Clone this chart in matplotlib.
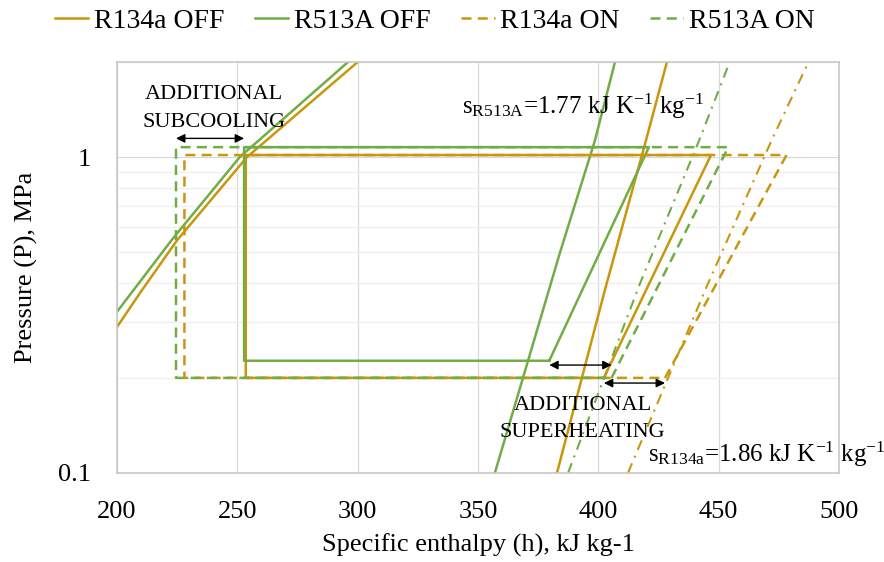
import matplotlib
matplotlib.use('Agg')
import matplotlib.pyplot as plt
from matplotlib.lines import Line2D

plt.rcParams['font.family'] = ['Liberation Serif', 'DejaVu Serif']
plt.rcParams['mathtext.fontset'] = 'custom'
plt.rcParams['mathtext.rm'] = 'Liberation Serif'
plt.rcParams['mathtext.it'] = 'Liberation Serif:italic'

GOLD = '#C9960C'
GREEN = '#70AD47'

# saturated liquid lines (h in kJ/kg, P in MPa)
liq_r134a_h = [200.0, 209.6, 225.0, 254.0, 300.0]
liq_r134a_p = [0.290, 0.372, 0.546, 1.00, 2.00]
liq_r513a_h = [200.0, 209.6, 223.0, 251.0, 296.0]
liq_r513a_p = [0.324, 0.404, 0.550, 1.00, 2.00]

# saturated vapour lines
vap_r134a_h = [382.8, 402.7, 419.8, 428.5]
vap_r134a_p = [0.100, 0.379, 1.13, 2.00]
vap_r513a_h = [357.0, 384.0, 398.6, 406.9]
vap_r513a_p = [0.100, 0.497, 1.13, 2.00]

# isentropes
s_r134a_h = [412.3, 445.0, 472.0, 486.5]
s_r134a_p = [0.100, 0.389, 1.13, 1.94]
s_r513a_h = [387.4, 417.3, 441.9, 453.8]
s_r513a_p = [0.100, 0.398, 1.13, 1.93]

# cycles: suction -> discharge -> condenser outlet -> expansion -> suction
off_r134a_h = [402.3, 446.8, 253.5, 253.5, 402.3]
off_r134a_p = [0.200, 1.015, 1.015, 0.200, 0.200]
off_r513a_h = [379.6, 421.0, 252.8, 252.8, 379.6]
off_r513a_p = [0.2266, 1.075, 1.075, 0.2266, 0.2266]
on_r134a_h = [427.7, 478.2, 228.0, 228.0, 427.7]
on_r134a_p = [0.200, 1.015, 1.015, 0.200, 0.200]
on_r513a_h = [405.5, 454.0, 224.5, 224.5, 405.5]
on_r513a_p = [0.200, 1.075, 1.075, 0.200, 0.200]

x_ticks = [200, 250, 300, 350, 400, 450, 500]

fig = plt.figure(figsize=(8.84, 5.62), dpi=100)
ax = fig.add_axes([0.1324, 0.1584, 0.8167, 0.7313])
ax.set_yscale('log')

lw = 1.8
dash = (0, (4, 2.5))
dashdot = (0, (5, 3, 1, 3))

ax.plot(liq_r134a_h, liq_r134a_p, color=GOLD, lw=lw)
ax.plot(vap_r134a_h, vap_r134a_p, color=GOLD, lw=lw)
ax.plot(liq_r513a_h, liq_r513a_p, color=GREEN, lw=lw)
ax.plot(vap_r513a_h, vap_r513a_p, color=GREEN, lw=lw)

ax.plot(s_r134a_h, s_r134a_p, color=GOLD, lw=1.5, ls=dashdot)
ax.plot(s_r513a_h, s_r513a_p, color=GREEN, lw=1.5, ls=dashdot)

ax.plot(off_r134a_h, off_r134a_p, color=GOLD, lw=lw)
ax.plot(off_r513a_h, off_r513a_p, color=GREEN, lw=lw)
ax.plot(on_r134a_h, on_r134a_p, color=GOLD, lw=lw, ls=dash)
ax.plot(on_r513a_h, on_r513a_p, color=GREEN, lw=lw, ls=dash)

# subcooling / superheating arrows
arrow = dict(arrowstyle='<|-|>', color='black', lw=1.0, mutation_scale=13,
             shrinkA=0, shrinkB=0)
ax.annotate('', xy=(off_r513a_h[2], 1.146), xytext=(on_r513a_h[2], 1.146), arrowprops=arrow)
ax.annotate('', xy=(on_r513a_h[0], 0.2196), xytext=(off_r513a_h[0], 0.2196), arrowprops=arrow)
ax.annotate('', xy=(on_r134a_h[0], 0.1926), xytext=(off_r134a_h[0], 0.1926), arrowprops=arrow)

ax.text(240.3, 1.526, 'ADDITIONAL', fontsize=16, ha='center', va='baseline')
ax.text(240.3, 1.247, 'SUBCOOLING', fontsize=16, ha='center', va='baseline')
ax.text(393.4, 0.1582, 'ADDITIONAL', fontsize=16, ha='center', va='baseline')
ax.text(393.4, 0.1303, 'SUPERHEATING', fontsize=16, ha='center', va='baseline')
ax.text(343.2, 1.368, r's$_{\mathrm{R513A}}$=1.77 kJ K$^{\mathrm{-1}}$ kg$^{\mathrm{-1}}$',
        fontsize=18, ha='left', va='baseline')
ax.text(420.6, 0.1086, r's$_{\mathrm{R134a}}$=1.86 kJ K$^{\mathrm{-1}}$ kg$^{\mathrm{-1}}$',
        fontsize=18, ha='left', va='baseline')

ax.set_xlim(200, 500)
ax.set_ylim(0.1, 2.0)
ax.set_xticks(x_ticks)
ax.set_xticklabels([str(t) for t in x_ticks])
ax.set_yticks([0.1, 1])
ax.set_yticklabels(['0.1', '1'])
ax.set_yticks([0.2, 0.3, 0.4, 0.5, 0.6, 0.7, 0.8, 0.9, 2.0], minor=True)
ax.yaxis.set_minor_formatter(matplotlib.ticker.NullFormatter())
ax.tick_params(axis='x', which='both', length=0, pad=20, labelsize=19)
ax.tick_params(axis='y', which='both', length=0, pad=19, labelsize=19)

ax.grid(which='major', color='#D9D9D9', lw=0.9)
ax.grid(which='minor', axis='y', color='#EFEFEF', lw=0.9)
ax.set_axisbelow(True)
for sp in ax.spines.values():
    sp.set_color('#C8C8C8')
    sp.set_linewidth(1.2)

ax.set_xlabel('Specific enthalpy (h), kJ kg-1', fontsize=19, labelpad=8)
ax.set_ylabel('Pressure (P), MPa', fontsize=19, labelpad=14)

handles = [
    Line2D([], [], color=GOLD, lw=lw),
    Line2D([], [], color=GREEN, lw=lw),
    Line2D([], [], color=GOLD, lw=lw, ls=dash),
    Line2D([], [], color=GREEN, lw=lw, ls=dash),
]
labels = ['R134a OFF', 'R513A OFF', 'R134a ON', 'R513A ON']
fig.legend(handles, labels, loc='center', bbox_to_anchor=(0.492, 0.962), ncol=4,
           frameon=False, fontsize=20, handlelength=1.2, handletextpad=0.2,
           columnspacing=1.1)

fig.savefig('out.png', dpi=100)
